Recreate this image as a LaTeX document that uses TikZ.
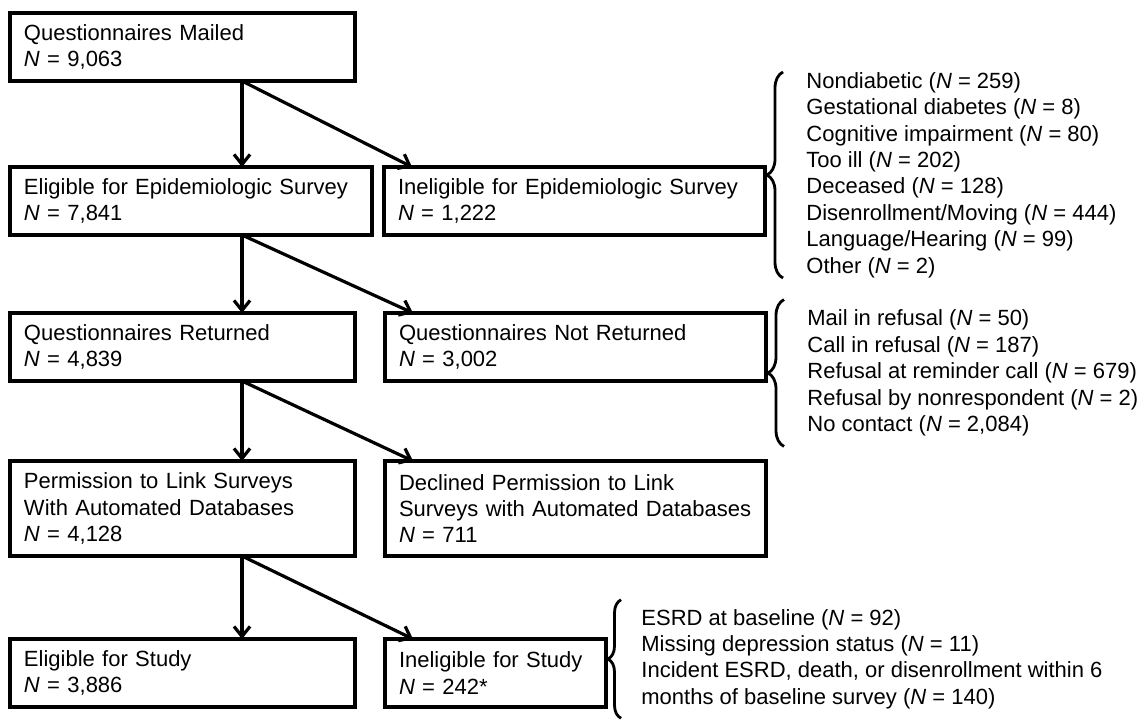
\documentclass[tikz,border=0pt]{standalone}
\usepackage{fontspec}
\setmainfont{Liberation Sans}
\usetikzlibrary{positioning,arrows.meta,decorations.pathreplacing}

\begin{document}
\begin{tikzpicture}[
    box/.style={draw, line width=1.6pt, outer sep=0pt, inner xsep=7pt, inner ysep=0pt,
        align=left, minimum height=34pt, font=\fontsize{11}{13.2}\selectfont},
    list/.style={inner sep=0pt, align=left, anchor=west, font=\fontsize{11}{13.2}\selectfont},
    arr/.style={line width=1.6pt, -{Straight Barb[length=5pt,width=8pt]}},
    brace/.style={decorate, decoration={brace, amplitude=#1}, line width=1.4pt}]
\useasboundingbox (0,0) rectangle (572pt,-361pt);

\node[box, text width=158.5pt, anchor=north west] (mailed) at (5pt,-6.5pt) {Questionnaires Mailed\\\textit{N} = 9,063};
\node[box, text width=167pt, below=43pt of mailed.south west, anchor=north west] (eligepi) {Eligible for Epidemiologic Survey\\\textit{N} = 7,841};
\node[box, text width=176.5pt, right=6pt of eligepi.north east, anchor=north west] (ineligepi) {Ineligible for Epidemiologic Survey\\\textit{N} = 1,222};
\node[box, text width=158.5pt, below=39pt of eligepi.south west, anchor=north west] (returned) {Questionnaires Returned\\\textit{N} = 4,839};
\node[box, text width=176.5pt, right=15pt of returned.north east, anchor=north west] (notret) {Questionnaires Not Returned\\\textit{N} = 3,002};
\node[box, text width=158.5pt, minimum height=47.5pt, below=40pt of returned.south west, anchor=north west] (perm) {Permission to Link Surveys\\With Automated Databases\\\textit{N} = 4,128};
\node[box, text width=176.5pt, minimum height=47.5pt, right=15pt of perm.north east, anchor=north west] (declined) {Declined Permission to Link\\Surveys with Automated Databases\\\textit{N} = 711};
\node[box, text width=158.5pt, below=41.5pt of perm.south west, anchor=north west] (eligstudy) {Eligible for Study\\\textit{N} = 3,886};
\node[box, text width=96.5pt, right=15pt of eligstudy.north east, anchor=north west] (ineligstudy) {Ineligible for Study\\\textit{N} = 242*};

% reasons
\node[list, right=20.5pt of ineligepi.north east, yshift=-4pt] (why1) {Nondiabetic (\textit{N} = 259)\\Gestational diabetes (\textit{N} = 8)\\Cognitive impairment (\textit{N} = 80)\\Too ill (\textit{N} = 202)\\Deceased (\textit{N} = 128)\\Disenrollment/Moving (\textit{N} = 444)\\Language/Hearing (\textit{N} = 99)\\Other (\textit{N} = 2)};
\node[list, right=20.5pt of notret.south east, yshift=4pt] (why2) {Mail in refusal (\textit{N} = 50)\\Call in refusal (\textit{N} = 187)\\Refusal at reminder call (\textit{N} = 679)\\Refusal by nonrespondent (\textit{N} = 2)\\No contact (\textit{N} = 2,084)};
\node[list, right=17.5pt of ineligstudy.east, yshift=7pt] (why3) {ESRD at baseline (\textit{N} = 92)\\Missing depression status (\textit{N} = 11)\\Incident ESRD, death, or disenrollment within 6\\months of baseline survey (\textit{N} = 140)};

\draw[brace=8pt] ([xshift=-11.5pt]why1.south west) -- ([xshift=-11.5pt]why1.north west);
\draw[brace=8pt] ([xshift=-11.5pt,yshift=-5pt]why2.south west) -- ([xshift=-11.5pt,yshift=5pt]why2.north west);
\draw[brace=6.5pt] ([xshift=-10pt,yshift=-4.5pt]why3.south west) -- ([xshift=-10pt,yshift=4.5pt]why3.north west);

% arrows
\coordinate (m0) at ([xshift=116pt]mailed.south west);
\draw[arr] (m0) -- (m0 |- eligepi.north);
\draw[arr] (m0) -- ([xshift=14pt]ineligepi.north west);
\coordinate (e0) at ([xshift=116pt]eligepi.south west);
\draw[arr] (e0) -- (e0 |- returned.north);
\draw[arr] (e0) -- ([xshift=14pt]notret.north west);
\coordinate (r0) at ([xshift=116pt]returned.south west);
\draw[arr] (r0) -- (r0 |- perm.north);
\draw[arr] (r0) -- ([xshift=14pt]declined.north west);
\coordinate (p0) at ([xshift=116pt]perm.south west);
\draw[arr] (p0) -- (p0 |- eligstudy.north);
\draw[arr] (p0) -- ([xshift=14pt]ineligstudy.north west);
\end{tikzpicture}
\end{document}
